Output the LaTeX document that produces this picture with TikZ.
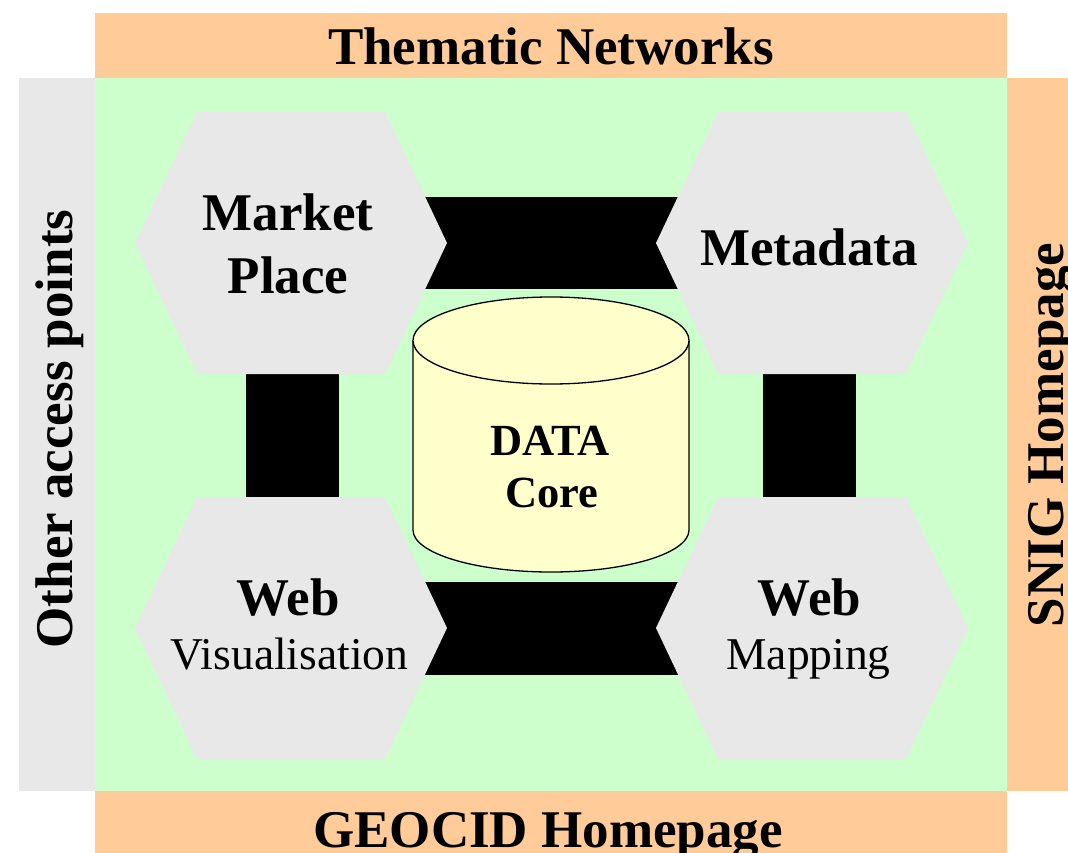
\documentclass[tikz,border=0pt]{standalone}
\usepackage{fontspec}
\setmainfont{Liberation Serif}
\usetikzlibrary{positioning}
\definecolor{barorange}{HTML}{FFCC99}
\definecolor{coregreen}{HTML}{CCFFCC}
\definecolor{hexgray}{HTML}{E8E8E8}
\definecolor{dbyellow}{HTML}{FFFFCC}
\tikzset{
  big/.style={font=\fontsize{53}{63}\selectfont\bfseries, inner sep=0pt, anchor=base},
  small/.style={font=\fontsize{45.5}{54}\selectfont, inner sep=0pt, anchor=base},
  db/.style={font=\fontsize{44.5}{52}\selectfont\bfseries, inner sep=0pt, anchor=base},
}
\newcommand{\hexa}[1]{\fill[hexgray, shift={(#1)}] (-156,0) -- (-94,-131) -- (94,-131) -- (156,0) -- (94,131) -- (-94,131) -- cycle;}

\begin{document}
\begin{tikzpicture}[x=1pt, y=-1pt] % pixel grid, y pointing down
  \useasboundingbox (0,0) rectangle (1068,853);
  % bands round the core
  \fill[barorange] (95,13) rectangle (1007,78);
  \fill[barorange] (95,791) rectangle (1007,853);
  \fill[barorange] (1007,78) rectangle (1068,791);
  \fill[hexgray] (19,78) rectangle (95,791);
  \fill[coregreen] (95,78) rectangle (1007,791);
  \coordinate (mp) at (291,243);
  \coordinate (md) at (812,243);
  \coordinate (wv) at (291,628);
  \coordinate (wm) at (812,628);
  % black links
  \fill ([yshift=46pt]mp) rectangle ([yshift=-46pt]md);
  \fill ([yshift=46.5pt]wv) rectangle ([yshift=-46.5pt]wm);
  \fill ([xshift=-45pt]mp) rectangle ([xshift=48pt]wv);
  \fill ([xshift=-49pt]md) rectangle ([xshift=44pt]wm);
  \hexa{mp} \hexa{md} \hexa{wv} \hexa{wm}
  % data core
  \coordinate (core) at (551,340.5);
  \filldraw[fill=dbyellow, line width=1.3pt] (413,340.5) -- (413,530)
    arc[start angle=180, end angle=0, x radius=138, y radius=42] -- (689,340.5);
  \filldraw[fill=dbyellow, line width=1.3pt] (core) ellipse[x radius=138, y radius=43.5];
  \node[db] (data) at (550,455) {DATA};
  \node[db] (corelbl) at (552,507) {Core};
  % labels
  \node[big] (thematic) at (551,65) {Thematic Networks};
  \node[big] (geocid) at (548,847) {GEOCID Homepage};
  \node[big, rotate=90] (other) at (72,429) {Other access points};
  \node[big, rotate=90] (snig) at (1063,435) {SNIG Homepage};
  \node[big] (market) at (288,230) {Market};
  \node[big] (place) at (288,293) {Place};
  \node[big] (meta) at (809,265) {Metadata};
  \node[big] (webv) at (288,615) {Web};
  \node[small] (vis) at (289.5,669) {Visualisation};
  \node[big] (webm) at (809.5,615) {Web};
  \node[small] (mapping) at (808.5,669) {Mapping};
\end{tikzpicture}
\end{document}
